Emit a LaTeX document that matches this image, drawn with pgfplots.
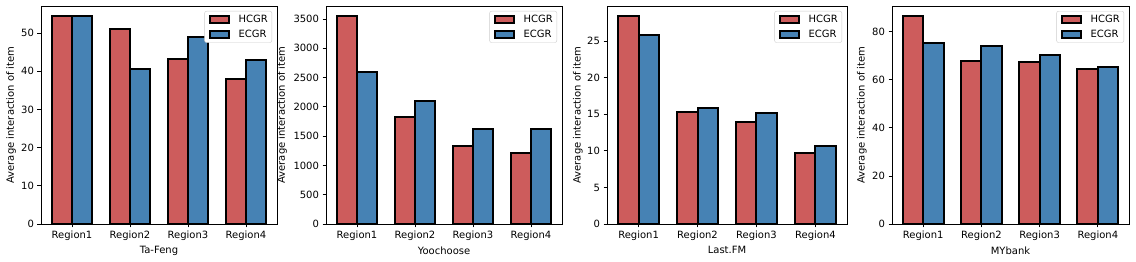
\documentclass[border=0pt]{standalone}
\usepackage{fontspec}
\setmainfont{DejaVu Sans}
\usepackage{pgfplots}
\pgfplotsset{compat=1.18}
\definecolor{hcgr}{HTML}{CD5C5C}
\definecolor{ecgr}{HTML}{4682B4}
\pgfplotsset{
  panel/.style={
    scale only axis, width=236pt, height=218pt,
    anchor=south west,
    xmin=-0.535, xmax=3.535, ymin=0,
    xtick={0,1,2,3}, xticklabels={Region1,Region2,Region3,Region4},
    tick align=outside, major tick length=3.5pt,
    tick style={black, line width=0.8pt},
    xtick pos=bottom, ytick pos=left,
    axis line style={line width=0.8pt},
    /pgf/number format/assume math mode=true,
    /pgf/number format/1000 sep={},
    scaled y ticks=false,
    tick label style={font=\fontsize{10}{12}\selectfont},
    label style={font=\fontsize{10}{12}\selectfont},
    xlabel style={at={(axis description cs:0.5,0)}, anchor=north, inner sep=0pt, yshift=-22.5pt},
    ybar, bar width=0.35, bar shift=0pt,
    legend image code/.code={\draw[##1, sharp corners, line width=2pt] (0pt,-3.5pt) rectangle (19pt,3.5pt);
      \path (-1pt,0pt) (27pt,0pt);},
    legend style={at={(1,1)}, anchor=north east, xshift=-5pt, yshift=-5pt,
      draw=black!20, rounded corners=2pt, fill=white,
      font=\fontsize{10}{12}\selectfont, inner xsep=3pt, inner ysep=3pt,
      nodes={inner sep=1pt},
      row sep=3.5pt, /tikz/every even column/.append style={column sep=0pt}},
    legend cell align=left,
  },
  hbar/.style={fill=hcgr, draw=black, line width=2pt, sharp corners},
  ebar/.style={fill=ecgr, draw=black, line width=2pt, sharp corners},
}
\begin{document}
\begin{tikzpicture}
\path[use as bounding box] (0,0) rectangle (1136pt,262pt);
% Panel 1: Ta-Feng
\begin{axis}[panel, at={(41pt,38pt)}, ymax=57.12, ytick={0,10,20,30,40,50},
  xlabel={Ta-Feng}, ylabel={Average interaction of item},
  ylabel style={at={(axis description cs:-0.127,0.5)}, anchor=center, rotate=0}]
\addplot[hbar] coordinates {(-0.175,54.4) (0.825,51.1) (1.825,43.2) (2.825,38.0)};
\addplot[ebar] coordinates {(0.175,54.4) (1.175,40.6) (2.175,49.0) (3.175,42.9)};
\legend{HCGR,ECGR}
\end{axis}
% Panel 2: Yoochoose
\begin{axis}[panel, at={(326pt,38pt)}, ymax=3722, ytick={0,500,1000,1500,2000,2500,3000,3500},
  xlabel={Yoochoose}, ylabel={Average interaction of item},
  ylabel style={at={(axis description cs:-0.186,0.5)}, anchor=center, rotate=0}]
\addplot[hbar] coordinates {(-0.175,3545) (0.825,1835) (1.825,1340) (2.825,1214)};
\addplot[ebar] coordinates {(0.175,2588) (1.175,2103) (2.175,1630) (3.175,1630)};
\legend{HCGR,ECGR}
\end{axis}
% Panel 3: Last.FM
\begin{axis}[panel, at={(607pt,38pt)}, width=240pt, ymax=29.82, ytick={0,5,10,15,20,25},
  xlabel={Last.FM}, ylabel={Average interaction of item},
  ylabel style={at={(axis description cs:-0.121,0.5)}, anchor=center, rotate=0}]
\addplot[hbar] coordinates {(-0.175,28.4) (0.825,15.36) (1.825,14.0) (2.825,9.74)};
\addplot[ebar] coordinates {(0.175,25.8) (1.175,15.9) (2.175,15.2) (3.175,10.7)};
\legend{HCGR,ECGR}
\end{axis}
% Panel 4: MYbank
\begin{axis}[panel, at={(892pt,38pt)}, width=237pt, ymax=90.72, ytick={0,20,40,60,80},
  xlabel={MYbank}, ylabel={Average interaction of item},
  ylabel style={at={(axis description cs:-0.127,0.5)}, anchor=center, rotate=0}]
\addplot[hbar] coordinates {(-0.175,86.4) (0.825,67.7) (1.825,67.3) (2.825,64.3)};
\addplot[ebar] coordinates {(0.175,75.5) (1.175,73.9) (2.175,70.5) (3.175,65.5)};
\legend{HCGR,ECGR}
\end{axis}
\end{tikzpicture}
\end{document}
